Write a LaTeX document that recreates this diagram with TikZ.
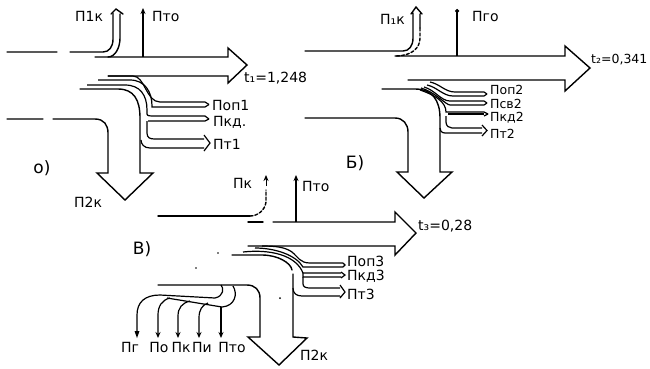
\documentclass[tikz,border=0pt]{standalone}
\usepackage{fontspec}
\setmainfont{DejaVu Sans}
\usetikzlibrary{arrows.meta}
\tikzset{
  ln/.style={line width=1.4pt,black,line cap=round},
  thin flow/.style={line width=1.2pt,black},
  lab/.style={font=\fontsize{14}{14}\selectfont,inner sep=0pt,anchor=west},
  smalllab/.style={font=\fontsize{12.5}{12.5}\selectfont,inner sep=0pt,anchor=west},
  toplab/.style={font=\fontsize{14}{14}\selectfont,inner sep=0pt,anchor=center},
  biglab/.style={font=\fontsize{17}{17}\selectfont,inner sep=0pt},
  sing/.style={line width=1.2pt,-{Stealth[length=6pt,width=5pt]}}
}
\begin{document}
\begin{tikzpicture}[x=1pt,y=-1pt]
\useasboundingbox (0,0) rectangle (650,368);
% ---------- a)
\node[lab] (a1k) at (75,16) {П1к};
\node[lab] (ato) at (152,16) {Пто};
\node[lab] (aval) at (244,78) {t₁=1,248};
\node[lab] (apop) at (212,105) {Поп1};
\node[lab] (akd) at (213,122) {Пкд.};
\node[lab] (at1) at (213,144) {Пт1};
\node[lab] (a2k) at (74,202) {П2к};
\node[biglab] (alab) at (42,168) {о)};
\coordinate (amain) at (143,57);
\draw[ln] (95,57) -- (228,57) -- (228,48) -- (247,65) -- (228,83) -- (228,76) -- (108,76);
\draw[ln] (7,52) -- (57,52) (70,52) -- (103,52) .. controls (109,52) and (113,47) .. (113,39) -- (113,13);
\draw[ln] (111,14) -- (116,9) -- (123,14) (120,14) -- (120,38) .. controls (120,48) and (115,57) .. (108,57);
\draw[sing] (amain) -- (143,8);
% lower flows a
\draw[thin flow] (108,76) -- (133,76) .. controls (145,76) and (146,102) .. (160,102) -- (205,102) -- (209,104.5);
\draw[thin flow] (98,80) -- (130,80) .. controls (145,80) and (152,92) .. (152,106) -- (152,107) -- (205,107) -- (209,104.5);
\draw[thin flow] (87,85) -- (125,85) .. controls (140,85) and (147,95) .. (147,110) -- (147,114) .. controls (147,116) and (150,116) .. (155,116) -- (205,116) -- (209,119);
\draw[thin flow] (148,121) -- (205,121) -- (209,119);
\draw[thin flow] (147,121) -- (147,133) .. controls (147,138) and (150,139) .. (155,139) -- (204,139);
\draw[thin flow] (204,135) -- (210,143) -- (204,151) (204,148) -- (150,148) .. controls (144,148) and (141,144) .. (141,140);
\draw[ln] (80,89) -- (118,89) .. controls (134,89) and (140,100) .. (140,118) -- (140,173) -- (153,173) -- (125,200) -- (97,173) -- (108,173) -- (108,133) .. controls (108,125) and (104,119) .. (95,119) -- (53,119) (43,119) -- (7,119);
% ---------- b)
\node[lab] (b1k) at (380,19) {П₁к};
\node[lab] (bto) at (472,16) {Пго};
\node[smalllab] (bval) at (591,60) {t₂=0,341};
\node[smalllab] (bop) at (490,90) {Поп2};
\node[smalllab] (bsv) at (490,104) {Псв2};
\node[smalllab] (bkd) at (490,118) {Пкд2};
\node[smalllab] (bt) at (490,134) {Пт2};
\node[biglab] (blab) at (355,163) {Б)};
\coordinate (bmain) at (457,56);
\draw[ln] (395,56) -- (565,56) -- (565,46) -- (590,68) -- (565,91) -- (565,80) -- (408,80);
\draw[ln] (305,51) -- (403,51) .. controls (409,51) and (413,46) .. (413,38) -- (413,13) (411,14) -- (416,7) -- (422,14) (420,14) -- (420,28);
\draw[ln,densely dashed] (420,28) -- (420,38) .. controls (420,48) and (412,56) .. (395,56);
\draw[sing,-{Circle[length=4pt]}] (bmain) -- (457,9);
\draw[thin flow] (430,82) .. controls (440,84) and (445,92) .. (455,92) -- (484,92) -- (487,94);
\draw[thin flow] (427,85) .. controls (437,87) and (443,96) .. (453,96) -- (484,96) -- (487,94);
\draw[thin flow] (424,87) .. controls (435,90) and (441,101) .. (450,101) -- (484,101) -- (487,103);
\draw[thin flow] (421,88) .. controls (435,92) and (446,105) .. (450,105) -- (484,105) -- (487,103);
\draw[thin flow] (420,90) .. controls (435,95) and (446,102) .. (446,112) -- (484,112) -- (488,114);
\draw[line width=2pt] (448,114) -- (484,114);
\draw[thin flow] (484,116) -- (488,114);
\draw[thin flow] (446,116) -- (446,122) .. controls (446,126) and (449,128) .. (452,128) -- (482,128);
\draw[thin flow] (482,125) -- (487,130.5) -- (482,136) (482,133) -- (445,133) .. controls (441,133) and (440,130) .. (440,128);
\draw[ln] (382,89) -- (415,89) .. controls (432,89) and (440,100) .. (440,118) -- (440,172) -- (452,172) -- (424,198) -- (397,172) -- (408,172) -- (408,132) .. controls (408,124) and (403,118) .. (395,118) -- (305,118);
% ---------- v)
\node[lab] (vk) at (233,183) {Пк};
\node[lab] (vto) at (302,186) {Пто};
\node[lab] (vval) at (418,226) {t₃=0,28};
\node[lab] (vop) at (347,261) {Поп3};
\node[lab] (vkd) at (347,276) {Пкд3};
\node[lab] (vt) at (347,294) {Пт3};
\node[lab] (v2k) at (300,355) {П2к};
\node[toplab] (vg) at (130,347) {Пг};
\node[toplab] (vo) at (159,347) {По};
\node[toplab] (vk2) at (181,347) {Пк};
\node[toplab] (vi) at (202,347) {Пи};
\node[toplab] (vto2) at (232,347) {Пто};
\node[biglab] (vlab) at (142,249) {В)};
\coordinate (vmain) at (296,222);
\draw[ln] (273,222) -- (395,222) -- (395,212) -- (416,233) -- (395,255) -- (395,246) -- (248,246);
\draw[ln] (248,222) -- (263,222);
\draw[ln] (158,216) -- (250,216);
\draw[ln,densely dashed] (250,216) .. controls (258,216) and (265,210) .. (266,202) -- (266,190);
\draw[sing,line width=0.9pt] (266,186) -- (266,175);
\draw[sing] (vmain) -- (296,175);
\draw[thin flow] (262,246) .. controls (275,246) and (285,247) .. (292,252) .. controls (298,257) and (300,263) .. (310,263) -- (343,263);
\draw[thin flow] (255,248) .. controls (275,248) and (296,255) .. (303,267) -- (343,267);
\draw[thin flow] (343,263) -- (345,265) -- (343,267);
\draw[thin flow] (243,252) .. controls (270,249) and (296,255) .. (303,273) -- (341,273);
\draw[thin flow] (303,273) -- (303,277) -- (341,277) (341,272) -- (345,275) -- (341,278);
\draw[thin flow] (303,277) -- (303,284) .. controls (303,287) and (306,288) .. (310,288) -- (340,288);
\draw[thin flow] (340,285) -- (345,292) -- (340,298) (340,296) -- (302,296) .. controls (296,296) and (293,293) .. (293,288);
\draw[ln] (232,255) -- (262,255) .. controls (278,255) and (291,263) .. (292,270);
\draw[ln] (293,274) -- (293,337) -- (307,338) -- (279,365) -- (248,337) -- (260,337) -- (260,298) .. controls (260,290) and (255,285) .. (247,285) -- (158,285);
% branches
\draw[thin flow] (221,285) .. controls (224,288) and (224,296) .. (215,298) -- (160,295) .. controls (145,295) and (137,302) .. (137,315) -- (137,331);
\draw[thin flow] (233,286) .. controls (238,294) and (235,306) .. (222,307) -- (167,298);
\fill (137,338) -- (134.5,331) -- (139.5,331) -- cycle;
\draw[sing] (170,298) .. controls (162,300) and (158,306) .. (158,315) -- (158,338);
\draw[sing] (190,301) .. controls (182,303) and (178,308) .. (178,316) -- (178,338);
\draw[sing] (208,303) .. controls (202,305) and (199,310) .. (199,318) -- (199,338);
\draw[sing] (221,307) -- (221,338);
\fill (218,253) circle (0.9) (196,268) circle (0.9) (280,298) circle (1);
\end{tikzpicture}
\end{document}
